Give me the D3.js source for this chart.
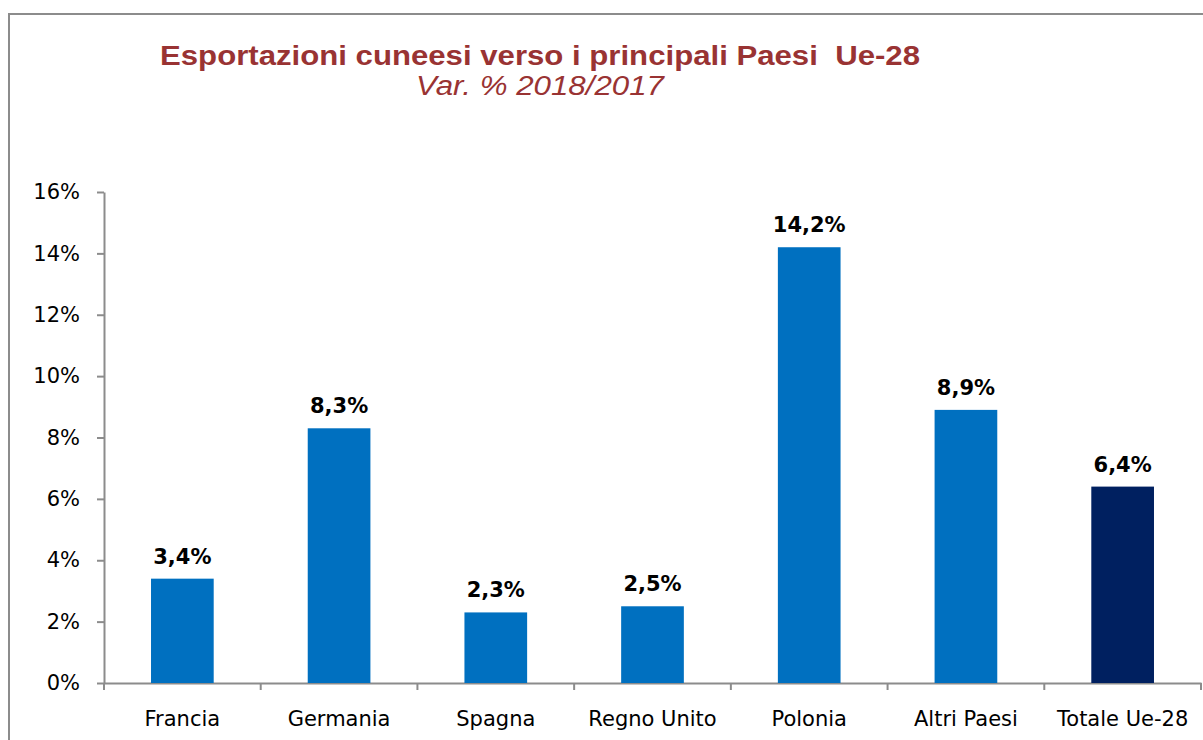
<!DOCTYPE html>
<html>
<head>
<meta charset="utf-8">
<script src="https://cdn.jsdelivr.net/npm/d3@7.9.0/dist/d3.min.js"></script>
<style>
  html, body { margin: 0; padding: 0; background: #fff; }
  svg { display: block; }
</style>
</head>
<body>
<script>
// Chart data
const categories = ["Francia", "Germania", "Spagna", "Regno Unito", "Polonia", "Altri Paesi", "Totale Ue-28"];
const values = [3.4, 8.3, 2.3, 2.5, 14.2, 8.9, 6.4];
const yTicks = [0, 2, 4, 6, 8, 10, 12, 14, 16];
const titleText = "Esportazioni cuneesi verso i principali Paesi  Ue-28";
const subtitleText = "Var. % 2018/2017";

const width = 1203, height = 740;
const margin = { top: 192, right: 2, bottom: 57, left: 104 };

const svg = d3.select("body").append("svg")
    .attr("width", width)
    .attr("height", height);

// outer frame (runs off the right and bottom edges)
svg.append("rect")
    .attr("x", 9).attr("y", 14)
    .attr("width", width + 20).attr("height", height + 20)
    .attr("fill", "none")
    .attr("stroke", "#8c8c8c")
    .attr("stroke-width", 2);

// Titles
svg.append("text")
    .attr("x", 160).attr("y", 65)
    .attr("textLength", 760)
    .attr("lengthAdjust", "spacingAndGlyphs")
    .style("white-space", "pre")
    .style("font-family", "'Liberation Sans', Arial, sans-serif")
    .style("font-weight", "bold")
    .style("font-size", "27px")
    .attr("fill", "#993333")
    .text(titleText);

svg.append("text")
    .attr("x", 416).attr("y", 95)
    .attr("textLength", 248)
    .attr("lengthAdjust", "spacingAndGlyphs")
    .style("font-family", "'Liberation Sans', Arial, sans-serif")
    .style("font-style", "italic")
    .style("font-size", "27px")
    .attr("fill", "#993333")
    .text(subtitleText);

// Scales
const x = d3.scaleBand()
    .domain(categories)
    .range([margin.left, width - margin.right])
    .paddingInner(0.6)
    .paddingOuter(0.3);

const y = d3.scaleLinear()
    .domain([0, 16])
    .range([height - margin.bottom, margin.top]);

const axisFont = "'DejaVu Sans', Verdana, sans-serif";

// Y axis
const yAxis = svg.append("g")
    .attr("transform", `translate(${margin.left},0)`)
    .call(d3.axisLeft(y).tickValues(yTicks).tickFormat(d => d + "%").tickSize(7).tickSizeOuter(0).tickPadding(17));
yAxis.selectAll("path, line").attr("stroke", "#8c8c8c").attr("stroke-width", 2);
yAxis.selectAll("text")
    .style("font-family", axisFont)
    .style("font-size", "21px")
    .attr("fill", "#000");

// X axis
const xAxis = svg.append("g")
    .attr("transform", `translate(0,${y(0)})`)
    .call(d3.axisBottom(x).tickSize(0).tickSizeOuter(0).tickPadding(28));
xAxis.select(".domain").attr("stroke", "#8c8c8c").attr("stroke-width", 2);
xAxis.selectAll("text")
    .style("font-family", axisFont)
    .style("font-size", "21px")
    .attr("fill", "#000");

// tick marks between categories
xAxis.selectAll(".sep")
    .data(d3.range(categories.length + 1))
    .enter().append("line")
    .attr("class", "sep")
    .attr("x1", i => x.range()[0] + i * x.step())
    .attr("x2", i => x.range()[0] + i * x.step())
    .attr("y1", 0).attr("y2", 7)
    .attr("stroke", "#8c8c8c")
    .attr("stroke-width", 2);

// Bars
svg.selectAll("rect.bar")
    .data(values)
    .enter().append("rect")
    .attr("class", "bar")
    .attr("x", (d, i) => x(categories[i]))
    .attr("y", d => y(d))
    .attr("width", x.bandwidth())
    .attr("height", d => y(0) - y(d))
    .attr("fill", (d, i) => i === categories.length - 1 ? "#002060" : "#0070C0");

// Value labels
svg.selectAll("text.val")
    .data(values)
    .enter().append("text")
    .attr("class", "val")
    .attr("x", (d, i) => x(categories[i]) + x.bandwidth() / 2)
    .attr("y", d => y(d) - 15)
    .attr("text-anchor", "middle")
    .style("font-family", axisFont)
    .style("font-weight", "bold")
    .style("font-size", "21px")
    .attr("fill", "#000")
    .text(d => d.toFixed(1).replace(".", ",") + "%");
</script>
</body>
</html>
